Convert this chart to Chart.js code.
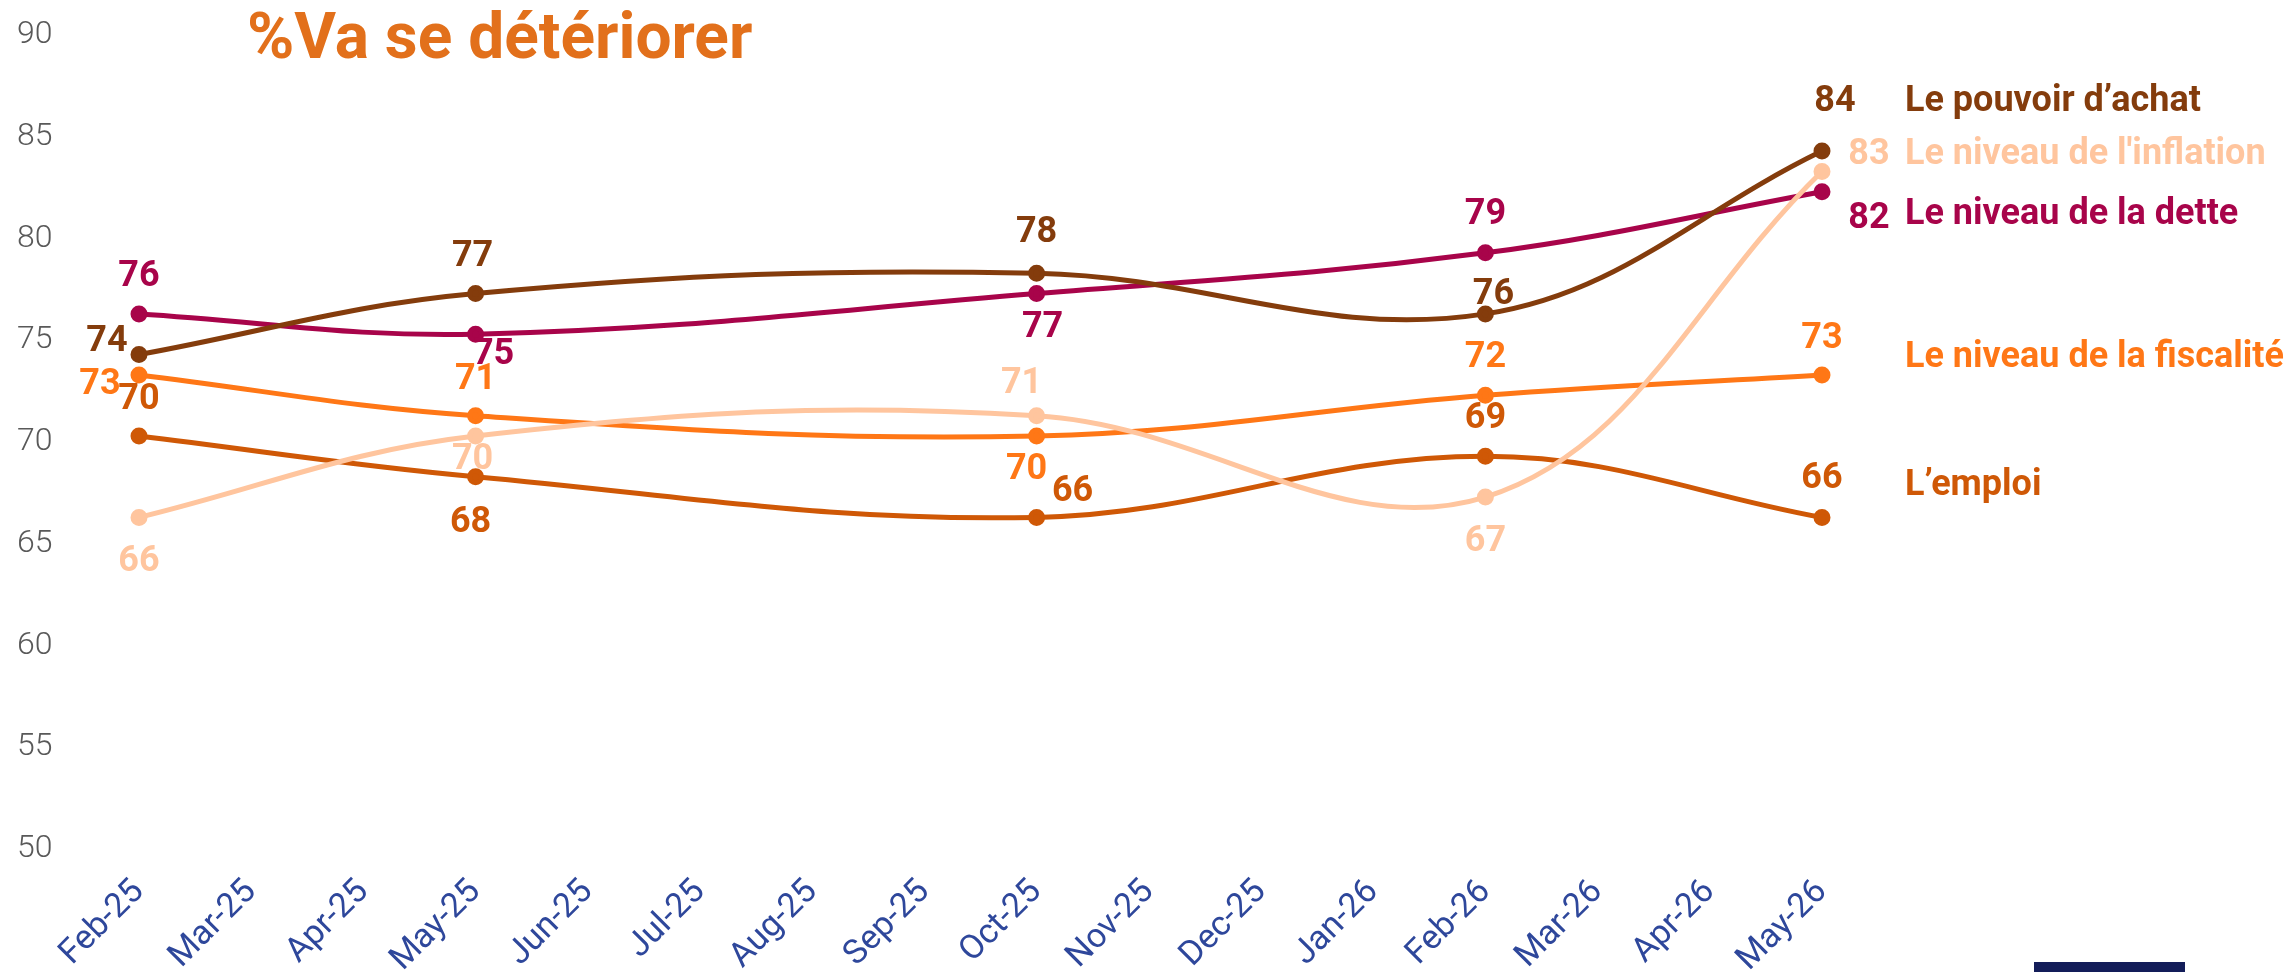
<!DOCTYPE html>
<html lang="fr">
<head>
<meta charset="utf-8">
<title>%Va se détériorer</title>
<script src="https://cdn.jsdelivr.net/npm/chart.js@4.4.1/dist/chart.umd.min.js"></script>
<style>
  html, body { margin: 0; padding: 0; background: #fff; }
  #wrap { position: relative; width: 2295px; height: 972px; }
  #footerBar { position: absolute; left: 2034px; top: 962px; width: 151px; height: 10px; background: #131d59; }
</style>
</head>
<body>
<div id="wrap">
  <canvas id="chart" width="2295" height="972"></canvas>
  <div id="footerBar"></div>
</div>
<script>
// months on the x axis
const months = ['Feb-25', 'Mar-25', 'Apr-25', 'May-25', 'Jun-25', 'Jul-25', 'Aug-25', 'Sep-25',
  'Oct-25', 'Nov-25', 'Dec-25', 'Jan-26', 'Feb-26', 'Mar-26', 'Apr-26', 'May-26'];

// survey waves only; months without a wave stay empty
const pouvoirAchat = [74, null, null, 77, null, null, null, null, 78, null, null, null, 76, null, null, 84];
const inflation    = [66, null, null, 70, null, null, null, null, 71, null, null, null, 67, null, null, 83];
const dette        = [76, null, null, 75, null, null, null, null, 77, null, null, null, 79, null, null, 82];
const fiscalite    = [73, null, null, 71, null, null, null, null, 70, null, null, null, 72, null, null, 73];
const emploi       = [70, null, null, 68, null, null, null, null, 66, null, null, null, 69, null, null, 66];

const seriesNames = ['Le pouvoir d\u2019achat', 'Le niveau de l\'inflation', 'Le niveau de la dette',
  'Le niveau de la fiscalité', 'L\u2019emploi'];

const yMin = 50;
const yMax = 90;
const yStep = 5;

const colors = ['#843c0c', '#ffc59e', '#a8044a', '#ff7716', '#cf5806'];

// where each value label sits around its point, one [dx, dy] per wave
const labelOffsets = [
  [[-32, -14], [-3, -38], [0, -41], [8, -20], [13, -50]],
  [[0, 44], [-3, 23], [-15, -33], [0, 44], [47, -17]],
  [[0, -38], [18, 20], [6, 33], [0, -39], [47, 26]],
  [[-39, 9], [0, -37], [-10, 33], [0, -38], [0, -37]],
  [[0, -37], [-5, 45], [36, -26], [0, -38], [0, -39]]
];
// series names at the right, placed relative to the last point
const nameOffsets = [-50, -17, 22, -18, -32];

const valueFont = 'bold 36px Roboto, "Liberation Sans", sans-serif';

// y tick labels, drawn from the y scale a little below the tick line
const yLabelsPlugin = {
  id: 'yLabels',
  afterDraw(chart) {
    const scale = chart.scales.y;
    const ctx = chart.ctx;
    ctx.save();
    ctx.font = '300 32px Roboto, sans-serif';
    ctx.fillStyle = '#595959';
    ctx.textAlign = 'left';
    ctx.textBaseline = 'middle';
    scale.ticks.forEach(t => {
      ctx.fillText(String(t.value), scale.left, scale.getPixelForValue(t.value) + 6);
    });
    ctx.restore();
  }
};

const labelsPlugin = {
  id: 'pointLabels',
  afterDatasetsDraw(chart) {
    const ctx = chart.ctx;
    ctx.save();
    ctx.font = valueFont;
    ctx.textAlign = 'center';
    ctx.textBaseline = 'middle';
    chart.data.datasets.forEach((ds, di) => {
      const meta = chart.getDatasetMeta(di);
      let k = 0;
      let last = null;
      ds.data.forEach((v, i) => {
        if (v === null) return;
        const pt = meta.data[i];
        const off = labelOffsets[di][k++];
        ctx.fillStyle = colors[di];
        ctx.fillText(String(v), pt.x + off[0], pt.y + off[1] + 1);
        last = pt;
      });
      if (last) {
        ctx.textAlign = 'left';
        ctx.fillText(seriesNames[di], chart.chartArea.right + 83, last.y + nameOffsets[di] + 1);
        ctx.textAlign = 'center';
      }
    });
    // heading
    ctx.font = 'bold 64px Roboto, "Liberation Sans", sans-serif';
    ctx.fillStyle = '#e2701b';
    ctx.textAlign = 'left';
    ctx.textBaseline = 'alphabetic';
    ctx.fillText('%Va se détériorer', 247, 58);
    ctx.restore();
  }
};

const allSeries = [pouvoirAchat, inflation, dette, fiscalite, emploi];

new Chart(document.getElementById('chart'), {
  type: 'line',
  data: {
    labels: months,
    datasets: allSeries.map((s, i) => ({
      label: seriesNames[i],
      data: s,
      borderColor: colors[i],
      backgroundColor: colors[i],
      borderWidth: 5,
      pointRadius: 6,
      pointHoverRadius: 6,
      tension: 0.38,
      spanGaps: true,
      clip: false
    }))
  },
  options: {
    responsive: false,
    animation: false,
    events: [],
    layout: { padding: { left: 17, top: 29, right: 473, bottom: 0 } },
    plugins: {
      legend: { display: false },
      tooltip: { enabled: false },
      title: { display: false }
    },
    scales: {
      x: {
        grid: { display: false, drawTicks: false },
        border: { display: false },
        afterFit(scale) { scale.height = 129; },
        ticks: {
          autoSkip: false,
          minRotation: 45,
          maxRotation: 45,
          padding: 29,
          color: '#2e479b',
          font: { family: 'Roboto', size: 34 }
        }
      },
      y: {
        min: yMin,
        max: yMax,
        grid: { display: false, drawTicks: false },
        border: { display: false },
        afterFit(scale) { scale.width = 122; },
        ticks: {
          stepSize: yStep,
          display: false
        }
      }
    }
  },
  plugins: [labelsPlugin, yLabelsPlugin]
});
</script>
</body>
</html>
